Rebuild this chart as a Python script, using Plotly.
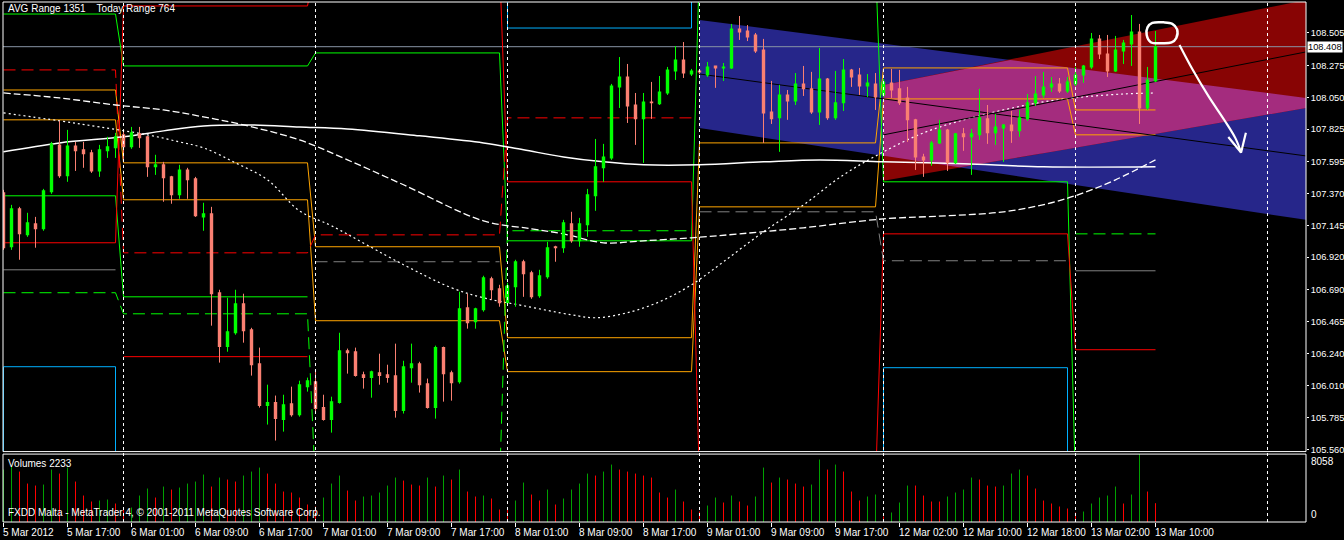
import plotly.graph_objects as go

# ---------------- data ----------------
open_ = [107.375, 106.994, 107.262, 107.078, 107.156, 107.121, 107.382, 107.714, 107.495, 107.707,
         107.679, 107.658, 107.530, 107.672, 107.693, 107.785, 107.700, 107.792, 107.771, 107.559,
         107.573, 107.488, 107.361, 107.537, 107.474, 107.205, 107.227, 106.669, 106.288, 106.386,
         106.591, 106.407, 106.167, 105.871, 105.893, 105.772, 105.885, 105.807, 106.005, 106.040,
         105.857, 105.772, 105.893, 106.259, 106.252, 106.090, 106.069, 106.104, 106.090, 106.083,
         105.836, 106.139, 106.167, 106.026, 105.857, 106.281, 106.104, 106.040, 106.563, 106.464,
         106.549, 106.768, 106.697, 106.598, 106.711, 106.888, 106.810, 106.648, 106.782, 106.994,
         106.987, 107.156, 107.036, 107.149, 107.354, 107.552, 107.622, 108.124, 108.194, 107.996,
         107.898, 108.018, 108.004, 108.081, 108.237, 108.314, 108.215, 108.237, 108.208, 108.272,
         108.258, 108.258, 108.533, 108.519, 108.491, 108.385, 107.947, 107.905, 108.067, 108.025,
         108.145, 108.110, 107.947, 108.180, 107.905, 108.011, 108.244, 108.208, 108.131, 108.145,
         108.067, 108.152, 108.110, 108.046, 107.891, 107.629, 107.608, 107.728, 107.820, 107.587,
         107.792, 107.771, 107.785, 107.898, 107.799, 107.834, 107.855, 107.813, 107.898, 108.011,
         108.067, 108.124, 108.145, 108.095, 108.145, 108.208, 108.265, 108.463, 108.357, 108.237,
         108.378, 108.427, 108.512, 107.975, 108.166]
high = [107.396, 107.290, 107.276, 107.234, 107.205, 107.403, 107.735, 107.884, 107.820, 107.735,
        107.735, 107.679, 107.714, 107.771, 107.799, 107.820, 107.841, 107.841, 107.778, 107.644,
        107.594, 107.495, 107.573, 107.552, 107.488, 107.305, 107.276, 106.690, 106.633, 106.690,
        106.662, 106.421, 106.281, 106.019, 105.942, 105.948, 106.005, 106.047, 106.069, 106.125,
        105.948, 105.934, 106.386, 106.274, 106.281, 106.111, 106.118, 106.238, 106.160, 106.309,
        106.188, 106.309, 106.181, 106.062, 106.295, 106.288, 106.118, 106.676, 106.662, 106.563,
        106.789, 106.782, 106.725, 106.739, 106.902, 106.902, 106.824, 106.831, 107.029, 107.001,
        107.184, 107.241, 107.198, 107.403, 107.756, 107.721, 108.145, 108.335, 108.286, 108.081,
        108.081, 108.159, 108.201, 108.265, 108.413, 108.441, 108.251, 108.244, 108.300, 108.272,
        108.293, 108.569, 108.625, 108.561, 108.505, 108.463, 108.166, 108.138, 108.102, 108.222,
        108.272, 108.230, 108.399, 108.187, 108.237, 108.321, 108.251, 108.258, 108.215, 108.222,
        108.180, 108.251, 108.244, 108.124, 107.898, 107.651, 107.742, 107.891, 107.827, 107.799,
        107.834, 107.827, 108.110, 107.996, 107.933, 107.862, 107.954, 107.961, 108.074, 108.201,
        108.230, 108.194, 108.187, 108.194, 108.265, 108.279, 108.505, 108.491, 108.491, 108.484,
        108.456, 108.632, 108.569, 108.265, 108.519]
low = [106.972, 106.972, 106.902, 107.064, 106.987, 107.107, 107.368, 107.481, 107.453, 107.530,
       107.552, 107.516, 107.488, 107.622, 107.622, 107.608, 107.686, 107.693, 107.488, 107.502,
       107.312, 107.298, 107.333, 107.333, 107.205, 107.107, 106.436, 106.175, 106.252, 106.372,
       106.316, 106.083, 105.857, 105.737, 105.624, 105.687, 105.793, 105.793, 105.970, 105.829,
       105.765, 105.680, 105.885, 106.097, 106.076, 105.991, 105.927, 106.019, 106.033, 105.786,
       105.815, 106.033, 105.963, 105.850, 105.779, 105.899, 105.906, 106.026, 106.415, 106.415,
       106.535, 106.619, 106.570, 106.584, 106.570, 106.640, 106.626, 106.633, 106.768, 106.888,
       106.951, 107.022, 106.994, 107.064, 107.248, 107.453, 107.608, 107.975, 107.869, 107.714,
       107.587, 107.898, 107.996, 108.067, 108.173, 108.187, 108.201, 108.215, 108.194, 108.117,
       108.166, 108.251, 108.456, 108.448, 108.364, 107.728, 107.862, 107.665, 107.891, 107.996,
       108.060, 107.933, 107.855, 107.891, 107.891, 107.954, 108.124, 108.067, 108.053, 107.961,
       108.053, 108.046, 107.996, 107.735, 107.537, 107.488, 107.566, 107.721, 107.530, 107.580,
       107.672, 107.502, 107.749, 107.721, 107.714, 107.594, 107.728, 107.771, 107.884, 107.989,
       108.046, 108.088, 108.081, 108.081, 108.131, 108.152, 108.251, 108.321, 108.194, 108.230,
       108.286, 108.272, 107.862, 107.961, 108.159]
close = [106.987, 107.262, 107.085, 107.163, 107.121, 107.389, 107.721, 107.495, 107.707, 107.672,
         107.651, 107.530, 107.679, 107.700, 107.771, 107.700, 107.799, 107.764, 107.559, 107.573,
         107.481, 107.361, 107.537, 107.467, 107.213, 107.227, 106.662, 106.288, 106.393, 106.591,
         106.400, 106.160, 105.871, 105.893, 105.779, 105.878, 105.807, 106.019, 106.047, 105.850,
         105.772, 105.899, 106.259, 106.245, 106.083, 106.069, 106.111, 106.083, 106.069, 105.836,
         106.146, 106.167, 106.019, 105.857, 106.281, 106.097, 106.033, 106.556, 106.457, 106.556,
         106.775, 106.690, 106.598, 106.718, 106.888, 106.803, 106.640, 106.789, 106.987, 106.987,
         107.163, 107.036, 107.156, 107.361, 107.559, 107.629, 108.131, 108.194, 107.989, 107.898,
         108.018, 108.011, 108.088, 108.244, 108.314, 108.222, 108.237, 108.230, 108.265, 108.258,
         108.265, 108.533, 108.512, 108.477, 108.378, 107.940, 107.898, 108.067, 108.025, 108.145,
         108.110, 107.947, 108.180, 107.905, 108.011, 108.244, 108.194, 108.131, 108.152, 108.053,
         108.159, 108.102, 108.011, 107.891, 107.629, 107.608, 107.728, 107.820, 107.587, 107.792,
         107.771, 107.792, 107.905, 107.799, 107.841, 107.855, 107.813, 107.905, 108.011, 108.074,
         108.124, 108.145, 108.095, 108.159, 108.208, 108.272, 108.463, 108.357, 108.237, 108.385,
         108.434, 108.512, 107.975, 108.173, 108.408]
volume = [6220, 6695, 5984, 4562, 4325, 4444, 6221, 5747, 6458, 4799,
          3140, 2429, 2548, 2666, 2192, 1481, 1718, 3140, 3970, 2903,
          4207, 3851, 4088, 4562, 4799, 5629, 4207, 5273, 5036, 4799,
          5510, 5984, 6458, 5747, 4562, 3614, 3496, 2903, 2074, 1837,
          2903, 4562, 5510, 3733, 2548, 3022, 3140, 3496, 4325, 5273,
          4918, 4444, 4325, 5273, 4207, 5510, 5036, 6221, 3614, 3022,
          3140, 2785, 1481, 1481, 2548, 4681, 3259, 2548, 3851, 2074,
          2785, 3851, 4562, 5747, 5510, 5984, 6814, 6221, 5984, 5747,
          5510, 5273, 3496, 2903, 3851, 2429, 1481, 1244, 1955, 2903,
          2311, 3140, 2429, 1955, 3022, 6458, 4681, 5273, 5036, 4562,
          4207, 4444, 7406, 6221, 6814, 5984, 3614, 2548, 3022, 3259,
          652, 1126, 2311, 4325, 4325, 3140, 2429, 2429, 3022, 3496,
          3851, 5273, 5036, 4325, 4207, 4325, 5747, 6221, 5510, 3970,
          2548, 2192, 1837, 1600, 1126, 1244, 2192, 2903, 3140, 4207,
          2192, 3259, 8058, 3614, 2233]
volume_max = 8058
last_price = 108.408

tick_bars = [0, 8, 16, 24, 32, 40, 48, 56, 64, 72, 80, 88, 96, 104, 112, 120, 128, 136, 144]
tick_labels = ["5 Mar 2012", "5 Mar 17:00", "6 Mar 01:00", "6 Mar 09:00", "6 Mar 17:00",
               "7 Mar 01:00", "7 Mar 09:00", "7 Mar 17:00", "8 Mar 01:00", "8 Mar 09:00",
               "8 Mar 17:00", "9 Mar 01:00", "9 Mar 09:00", "9 Mar 17:00", "12 Mar 02:00",
               "12 Mar 10:00", "12 Mar 18:00", "13 Mar 02:00", "13 Mar 10:00"]
price_ticks = [108.505, 108.275, 108.050, 107.825, 107.595, 107.370, 107.145,
               106.920, 106.690, 106.465, 106.240, 106.010, 105.785, 105.560]
separator_bars = [15, 39, 63, 87, 110, 134, 158]
day_first = [0, 15, 39, 63, 87, 110, 134]
day_last = [14, 38, 62, 86, 109, 133, 144]

# daily pivot-style levels (one value per day, None = not drawn)
lvl_orange_a = [108.102, 107.587, 106.994, 106.351, 107.728, 108.258, 107.961]
lvl_orange_b = [107.891, 107.326, 106.471, 106.111, 107.276, 108.039, 107.785]
lvl_green_a = [108.639, 108.272, 108.364, 107.036, 109.000, 107.453, 105.300]
lvl_green_b = [107.354, 106.640, None, None, None, None, None]
lvl_green_dash = [106.669, 106.520, 105.300, 107.107, None, None, 107.085]
lvl_red_a = [107.022, 108.696, 109.000, 107.453, 105.300, 107.085, 106.266]
lvl_red_b = [None, 106.217, None, None, None, None, None]
lvl_red_dash = [108.244, 106.951, 107.078, 107.905, None, None, None]
lvl_grey = [106.831, None, None, None, None, None, 106.824]
lvl_grey_dash = [None, None, 106.888, None, 107.241, 106.895, None]
lvl_cyan = [106.146, None, None, 108.540, None, 106.139, None]

# moving averages, read at sample bars
ma_slow_bars = [0, 7, 15, 20, 25, 31, 37, 43, 52, 60, 65, 70, 75, 80, 87, 95, 102, 110, 120, 130, 144]
ma_slow = [107.665, 107.728, 107.771, 107.813, 107.848, 107.855, 107.841, 107.827, 107.778, 107.728,
           107.679, 107.629, 107.594, 107.573, 107.573, 107.594, 107.608, 107.594, 107.580, 107.559, 107.559]
ma_mid_bars = [0, 7, 14, 20, 25, 30, 37, 43, 50, 60, 66, 70, 75, 80, 86, 92, 100, 110, 118, 125, 131, 135, 139, 144]
ma_mid = [108.081, 108.046, 107.996, 107.961, 107.912, 107.855, 107.749, 107.608, 107.432, 107.177,
          107.121, 107.085, 107.022, 107.036, 107.057, 107.085, 107.128, 107.191, 107.213, 107.241,
          107.305, 107.375, 107.467, 107.608]
ma_fast_bars = [0, 7, 12, 18, 22, 25, 29, 33, 37, 41, 50, 56, 60, 65, 71, 74, 78, 82, 86, 90, 95,
                100, 105, 110, 115, 120, 125, 130, 135, 140, 144]
ma_fast = [107.940, 107.884, 107.841, 107.785, 107.735, 107.693, 107.587, 107.467, 107.248, 107.142,
           106.867, 106.704, 106.633, 106.577, 106.513, 106.492, 106.528, 106.605, 106.725, 106.888,
           107.100, 107.290, 107.502, 107.665, 107.799, 107.891, 107.961, 108.018, 108.053, 108.074, 108.081]

# regression channels: [start bar, end bar], upper / middle / lower prices at both ends
blue_bars = [87, 162.8]
blue_upper = [108.597, 108.046]
blue_mid = [108.215, 107.636]
blue_lower = [107.834, 107.184]
red_bars = [110, 162.8]
red_upper = [108.138, 108.738]
red_mid = [107.785, 108.371]
red_lower = [107.460, 107.975]

# hand drawn marks (bar, price)
circle_bars = [143.6, 145.0, 146.1, 146.7, 146.6, 146.0, 144.8, 143.4, 142.9, 143.0, 143.6]
circle_prices = [108.576, 108.580, 108.570, 108.530, 108.470, 108.438, 108.432, 108.440, 108.490, 108.545, 108.576]
arrow_bars = [147.0, 148.6, 150.6, 152.6, 154.0, 154.7]
arrow_prices = [108.420, 108.250, 108.060, 107.890, 107.760, 107.660]
arrowhead_bars = [153.1, 154.7, 155.3]
arrowhead_prices = [107.770, 107.660, 107.800]

# ---------------- figure ----------------
FONT = "Liberation Sans"
GREEN = "#00ff00"
SALMON = "#fa8072"
fig = go.Figure()


def lin(bars, vals, x):
    return vals[0] + (vals[1] - vals[0]) * (x - bars[0]) / (bars[1] - bars[0])


def band(xs, ups, los, color):
    fig.add_trace(go.Scatter(x=list(xs) + list(xs[::-1]) + [xs[0]],
                             y=list(ups) + list(los[::-1]) + [ups[0]],
                             fill="toself", fillcolor=color, mode="lines",
                             line=dict(width=0), hoverinfo="skip"))


band(blue_bars, blue_upper, blue_lower, "#26268a")
band(red_bars, red_upper, red_lower, "#880404")
# overlap of the two channels
ov_x0, ov_x1 = max(blue_bars[0], red_bars[0]), min(blue_bars[1], red_bars[1])
ox = [ov_x0 + (ov_x1 - ov_x0) * k / 200 for k in range(201)]
o_up, o_lo = [], []
for x in ox:
    u = min(lin(blue_bars, blue_upper, x), lin(red_bars, red_upper, x))
    l = max(lin(blue_bars, blue_lower, x), lin(red_bars, red_lower, x))
    o_up.append(max(u, l))
    o_lo.append(l)
band(ox, o_up, o_lo, "#a42c7e")

# current price line
fig.add_trace(go.Scatter(x=[-1, 170], y=[last_price, last_price], mode="lines",
                         line=dict(color="#8894a6", width=1), hoverinfo="skip"))


def level(vals, color, dash="solid"):
    xs, ys = [], []
    for d, v in enumerate(vals):
        if v is None:
            continue
        xs += [day_first[d], day_last[d]]
        ys += [v, v]
        if d + 1 < len(vals) and vals[d + 1] is None:
            xs.append(None); ys.append(None)
    fig.add_trace(go.Scatter(x=xs, y=ys, mode="lines", line=dict(color=color, width=1, dash=dash),
                             hoverinfo="skip", connectgaps=False))


DASH = "12px,6px"
level(lvl_orange_a, "#ffa500")
level(lvl_orange_b, "#ffa500")
level(lvl_green_a, GREEN)
level(lvl_green_b, GREEN)
level(lvl_green_dash, GREEN, DASH)
level(lvl_red_a, "#ff0000")
level(lvl_red_b, "#ff0000")
level(lvl_red_dash, "#ff0000", DASH)
level(lvl_grey, "#808080")
level(lvl_grey_dash, "#808080", DASH)

cx, cy = [], []
for d, v in enumerate(lvl_cyan):
    if v is None:
        continue
    edge = 108.9 if v > 107.1 else 105.3
    cx += [day_first[d], day_first[d], day_last[d], day_last[d], None]
    cy += [edge, v, v, edge, None]
fig.add_trace(go.Scatter(x=cx, y=cy, mode="lines", line=dict(color="#00b0ff", width=1), hoverinfo="skip"))

fig.add_trace(go.Scatter(x=ma_slow_bars, y=ma_slow, mode="lines", line=dict(color="white", width=1.5, shape="spline"), hoverinfo="skip"))
fig.add_trace(go.Scatter(x=ma_mid_bars, y=ma_mid, mode="lines", line=dict(color="white", width=1.3, dash="7px,3px", shape="spline"), hoverinfo="skip"))
fig.add_trace(go.Scatter(x=ma_fast_bars, y=ma_fast, mode="lines", line=dict(color="white", width=1.2, dash="2px,3px", shape="spline"), hoverinfo="skip"))

fig.add_trace(go.Scatter(x=blue_bars, y=blue_mid, mode="lines", line=dict(color="black", width=1), hoverinfo="skip"))
fig.add_trace(go.Scatter(x=red_bars, y=red_mid, mode="lines", line=dict(color="black", width=1), hoverinfo="skip"))

# candles: wicks and bodies as scatter segments
n = len(close)
for up in (True, False):
    idx = [i for i in range(n) if (close[i] >= open_[i]) == up]
    col = GREEN if up else SALMON
    wx, wy, bx, by = [], [], [], []
    for i in idx:
        wx += [i, i, None]
        wy += [low[i], high[i], None]
        lo_b, hi_b = min(open_[i], close[i]), max(open_[i], close[i])
        bx += [i, i, None]
        by += [lo_b - 0.0035, hi_b + 0.0035, None]
    fig.add_trace(go.Scatter(x=wx, y=wy, mode="lines", line=dict(color=col, width=1), hoverinfo="skip"))
    fig.add_trace(go.Scatter(x=bx, y=by, mode="lines", line=dict(color=col, width=3.4), hoverinfo="skip"))

fig.add_trace(go.Scatter(x=circle_bars, y=circle_prices, mode="lines", line=dict(color="white", width=2.5, shape="spline"), hoverinfo="skip"))
fig.add_trace(go.Scatter(x=arrow_bars, y=arrow_prices, mode="lines", line=dict(color="white", width=2.2, shape="spline"), hoverinfo="skip"))
fig.add_trace(go.Scatter(x=arrowhead_bars, y=arrowhead_prices, mode="lines", line=dict(color="white", width=2.2), hoverinfo="skip"))

for rising in (True, False):
    vx, vy = [], []
    for i in range(n):
        r = True if i == 0 else volume[i] > volume[i - 1]
        if r == rising:
            vx += [i, i, None]
            vy += [0, volume[i], None]
    fig.add_trace(go.Scatter(x=vx, y=vy, mode="lines", yaxis="y2",
                             line=dict(color="#00a000" if rising else "#ff0000", width=1), hoverinfo="skip"))

shapes = []
for b in separator_bars:
    shapes.append(dict(type="line", xref="x", yref="paper", x0=b, x1=b, y0=0, y1=1,
                       line=dict(color="white", width=1, dash="3px,3px"), layer="above"))
for yr in ("y domain", "y2 domain"):
    shapes.append(dict(type="rect", xref="paper", yref=yr, x0=0, x1=1, y0=0, y1=1,
                       line=dict(color="white", width=1), layer="above"))

TXT = dict(family=FONT, size=10, color="white")
ann = []
for b, t in zip(tick_bars, tick_labels):
    ann.append(dict(x=b, y=0, xref="x", yref="paper", text=t, showarrow=False, xanchor="left",
                    yanchor="middle", xshift=-3, yshift=-10, font=TXT))
ann.append(dict(x=0, y=1, xref="paper", yref="paper", text="AVG Range 1351    Today Range 764", showarrow=False,
                xanchor="left", yanchor="top", xshift=3, yshift=1, font=TXT))
ann.append(dict(x=0, y=1, xref="paper", yref="y2 domain", text="Volumes " + str(volume[-1]), showarrow=False,
                xanchor="left", yanchor="top", xshift=3, yshift=-2, font=TXT))
ann.append(dict(x=0, y=0, xref="paper", yref="y2 domain", text="FXDD Malta - MetaTrader 4, © 2001-2011 MetaQuotes Software Corp.",
                showarrow=False, xanchor="left", yanchor="bottom", xshift=3, yshift=2, font=TXT))
ann.append(dict(x=1, y=volume_max, xref="paper", yref="y2", text=str(volume_max), showarrow=False,
                xanchor="left", yanchor="top", xshift=3, font=TXT))
ann.append(dict(x=1, y=0, xref="paper", yref="y2", text="0", showarrow=False,
                xanchor="left", yanchor="bottom", xshift=3, font=TXT))
ann.append(dict(x=1, y=last_price, xref="paper", yref="y", text=f"{last_price:.3f}", showarrow=False,
                xanchor="left", yanchor="middle", xshift=1, bgcolor="white", borderpad=0,
                font=dict(family=FONT, size=9.3, color="black")))

fig.update_layout(
    width=1344, height=540, paper_bgcolor="black", plot_bgcolor="black",
    margin=dict(l=3, r=38, t=2, b=18, autoexpand=False), showlegend=False,
    xaxis=dict(range=[-0.0625, 162.8125], anchor="y2", tickvals=tick_bars, ticktext=[""] * len(tick_bars),
               ticks="outside", ticklen=4, tickcolor="white", showgrid=False, zeroline=False, showline=False),
    yaxis=dict(domain=[0.1354, 1], range=[105.546, 108.724], side="right", tickvals=price_ticks,
               ticktext=[f"{p:.3f}" for p in price_ticks], ticks="outside", ticklen=2, tickcolor="white",
               tickfont=dict(family=FONT, size=9.3, color="white"), showgrid=False, zeroline=False, showline=False),
    yaxis2=dict(domain=[0, 0.1306], range=[0, volume_max], side="right", showticklabels=False,
                showgrid=False, zeroline=False, showline=False, ticks=""),
    shapes=shapes, annotations=ann,
)
fig.write_html("out.html", config={"displayModeBar": False},
               post_script="document.body.style.margin='0px';document.body.style.overflow='hidden';")
